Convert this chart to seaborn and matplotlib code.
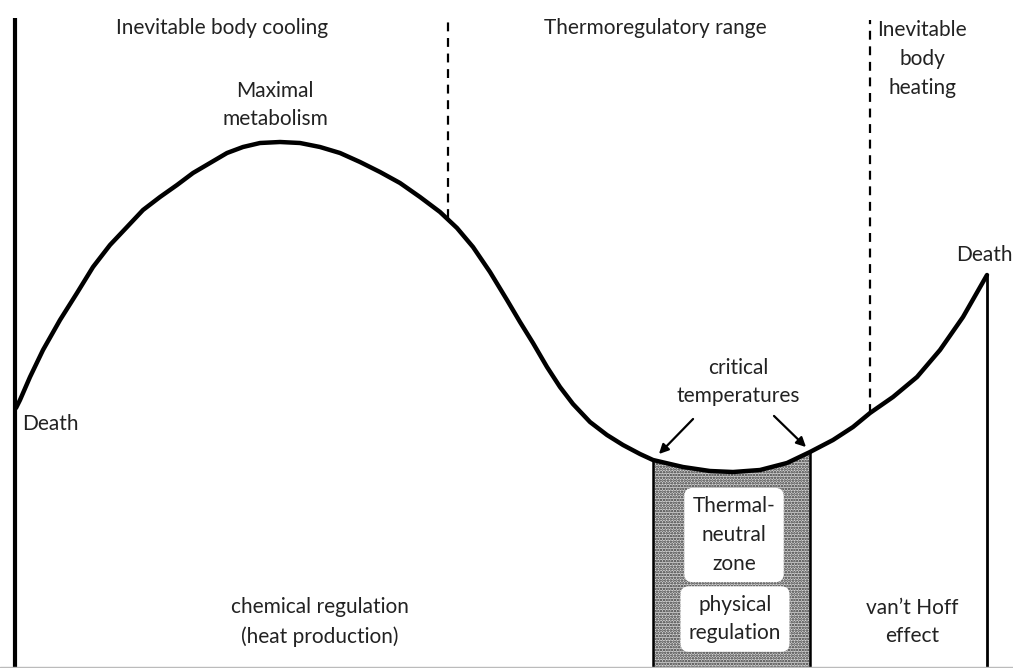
import matplotlib
matplotlib.use("Agg")
import matplotlib.pyplot as plt
import seaborn as sns
import pandas as pd

# curve (x = temperature, y = metabolic rate, arbitrary units)
temperature = [16, 20, 30, 43, 60, 77, 93, 110, 127, 143, 160, 177, 193, 210, 227,
               243, 260, 280, 300, 320, 340, 360, 380, 400, 420, 440, 457, 473, 490,
               507, 520, 533, 547, 560, 573, 590, 607, 623, 640, 653, 683, 710, 733,
               760, 787, 810, 833, 853, 870, 893, 917, 940, 963, 987]
metabolism = [260, 268, 291, 318, 348, 375, 401, 423, 441, 458, 471, 483, 495, 505, 515,
              521, 525, 526, 525, 521, 515, 506, 496, 485, 471, 456, 440, 421, 396,
              368, 346, 325, 301, 281, 264, 246, 233, 223, 214, 208, 201, 197, 196,
              198, 205, 216, 228, 241, 255, 271, 291, 318, 351, 393]

# zone borders
cold_limit = 448      # end of inevitable body cooling
hot_limit = 870       # start of inevitable body heating
tnz_low, tnz_high = 653, 810   # critical temperatures
death_hot = 987

sns.set_theme(style="white")
plt.rcParams["font.family"] = ["Lato", "DejaVu Sans"]

df = pd.DataFrame({"temperature": temperature, "metabolism": metabolism})

fig = plt.figure(figsize=(10.13, 6.68), dpi=100)
ax = fig.add_axes([0, 0, 1, 1])
ax.set_xlim(0, 1013)
ax.set_ylim(0, 668)
ax.axis("off")

# thermoneutral zone, shaded from the curve down to the base
plt.rcParams["hatch.linewidth"] = 1.2
tnz = df[(df.temperature >= tnz_low) & (df.temperature <= tnz_high)]
ax.fill_between(tnz.temperature, 0, tnz.metabolism, facecolor="#d4d4d4",
                hatch="......", edgecolor="#333333", linewidth=0, zorder=1)
ax.plot([tnz_low, tnz_low], [0, tnz.metabolism.iloc[0]], color="black", lw=1.8, zorder=2)
ax.plot([tnz_high, tnz_high], [0, tnz.metabolism.iloc[-1]], color="black", lw=1.8, zorder=2)

sns.lineplot(data=df, x="temperature", y="metabolism", sort=False, color="black",
             lw=3.2, ax=ax, zorder=4, solid_joinstyle="round")

# axis line on the left, death line on the right
ax.plot([15, 15], [0, 650], color="black", lw=3, solid_capstyle="butt")
ax.plot([death_hot, death_hot], [0, metabolism[-1]], color="black", lw=2)
ax.axhline(1, color="#bbbbbb", lw=1)

# dashed zone borders
ax.plot([cold_limit, cold_limit], [450, 648], color="black", lw=1.6, ls=(0, (4, 3)))
ax.plot([hot_limit, hot_limit], [255, 648], color="black", lw=1.6, ls=(0, (4, 3)))

fs = 15
txt = dict(ha="center", va="center", fontsize=fs, color="#222222", linespacing=1.55)
ax.text(222, 640, "Inevitable body cooling", **txt)
ax.text(655, 640, "Thermoregulatory range", **txt)
ax.text(922, 609, "Inevitable\nbody\nheating", **txt)
ax.text(275, 563, "Maximal\nmetabolism", **txt)
ax.text(1013, 413, "Death", ha="right", va="center", fontsize=fs, color="#222222")
ax.text(22, 244, "Death", ha="left", va="center", fontsize=fs, color="#222222")
ax.text(738, 286, "critical\ntemperatures", **txt)
ax.text(320, 46, "chemical regulation\n(heat production)", **txt)
ax.text(912, 46, "van\u2019t Hoff\neffect", **txt)

box = dict(facecolor="white", edgecolor="none", boxstyle="round,pad=0.4")
ax.text(734, 133, "Thermal-\nneutral\nzone", bbox=box, zorder=5, **txt)
ax.text(735, 49, "physical\nregulation", bbox=box, zorder=5, **txt)

arrow = dict(arrowstyle="-|>", color="black", lw=1.6, mutation_scale=14)
ax.annotate("", xy=(tnz_low + 4, 212), xytext=(695, 251), arrowprops=arrow)
ax.annotate("", xy=(tnz_high - 2, 219), xytext=(772, 254), arrowprops=arrow)

fig.savefig("out.png", dpi=100, facecolor="white")
